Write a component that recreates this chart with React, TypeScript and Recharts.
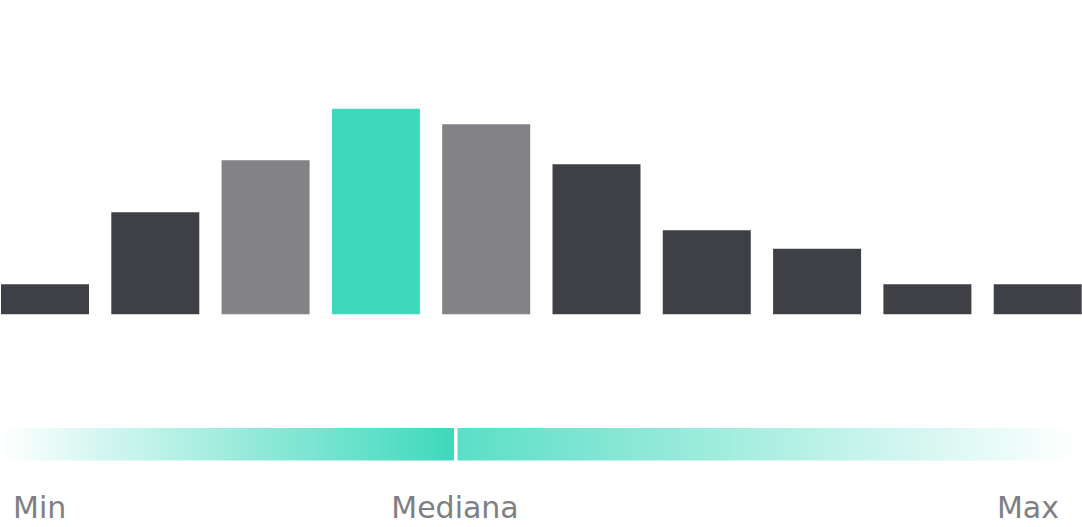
import React from "react";
import { BarChart, Bar, XAxis, YAxis, Cell } from "recharts";

const categories = ["B1", "B2", "B3", "B4", "B5", "B6", "B7", "B8", "B9", "B10"];
const values = [14.6, 49.6, 74.9, 100, 92.4, 73, 40.9, 31.9, 14.6, 14.6];
const roles = ["low", "low", "near", "median", "near", "low", "low", "low", "low", "low"];
const scaleLabels = ["Min", "Mediana", "Max"];

const roleColor: Record<string, string> = {
  low: "#3f4045",
  near: "#828287",
  median: "#3ed9bc",
};

const data = categories.map((c, i) => ({ name: c, value: values[i], role: roles[i] }));

export default function App() {
  return (
    <div style={{ position: "relative", width: 1082, height: 527, overflow: "hidden" }}>
      <style>{`html,body{margin:0;padding:0;overflow:hidden}`}</style>
      <div style={{ position: "absolute", left: -10.4, top: 0, width: 1103, height: 527 }}>
        <BarChart
          width={1103}
          height={527}
          data={data}
          margin={{ top: 108.7, bottom: 212.7, left: 0, right: 0 }}
          barCategoryGap={11}
        >
          <XAxis dataKey="name" hide />
          <YAxis hide domain={[0, 100]} />
          <Bar dataKey="value" isAnimationActive={false}>
            {data.map((d, i) => (
              <Cell key={i} fill={roleColor[d.role]} />
            ))}
          </Bar>
        </BarChart>
      </div>
      <svg
        width={1082}
        height={527}
        style={{ position: "absolute", left: 0, top: 0 }}
      >
        <defs>
          <linearGradient id="gl" x1="0" x2="1" y1="0" y2="0">
            <stop offset="0" stopColor="#3ed9bc" stopOpacity={0} />
            <stop offset="1" stopColor="#3ed9bc" stopOpacity={1} />
          </linearGradient>
          <linearGradient id="gr" x1="0" x2="1" y1="0" y2="0">
            <stop offset="0" stopColor="#3ed9bc" stopOpacity={0.85} />
            <stop offset="1" stopColor="#3ed9bc" stopOpacity={0} />
          </linearGradient>
        </defs>
        <rect x={0} y={428} width={454} height={32.5} fill="url(#gl)" />
        <rect x={457.5} y={428} width={620} height={32.5} fill="url(#gr)" />
        <g fontFamily="DejaVu Sans" fontSize={30} fill="#7e7f84">
          <text x={13} y={518}>{scaleLabels[0]}</text>
          <text x={455} y={518} textAnchor="middle">{scaleLabels[1]}</text>
          <text x={1059} y={518} textAnchor="end">{scaleLabels[2]}</text>
        </g>
      </svg>
    </div>
  );
}
